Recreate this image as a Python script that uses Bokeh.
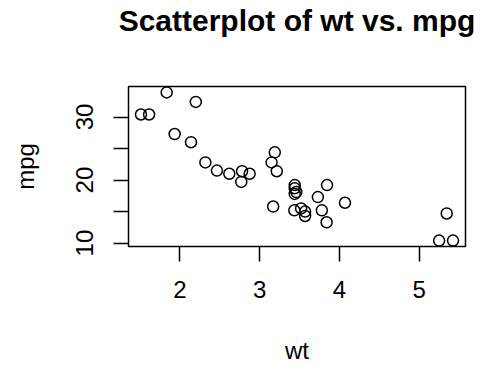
from bokeh.plotting import figure
from bokeh.models import Range1d, FixedTicker, ColumnDataSource, LinearAxis
from bokeh.embed import file_html
from bokeh.resources import INLINE

# mtcars: weight (1000 lbs) and miles per gallon
wt = [2.620, 2.875, 2.320, 3.215, 3.440, 3.460, 3.570, 3.190, 3.150, 3.440,
      3.440, 4.070, 3.730, 3.780, 5.250, 5.424, 5.345, 2.200, 1.615, 1.835,
      2.465, 3.520, 3.435, 3.840, 3.845, 1.935, 2.140, 1.513, 3.170, 2.770,
      3.570, 2.780]
mpg = [21.0, 21.0, 22.8, 21.4, 18.7, 18.1, 14.3, 24.4, 22.8, 19.2,
       17.8, 16.4, 17.3, 15.2, 10.4, 10.4, 14.7, 32.4, 30.4, 33.9,
       21.5, 15.5, 15.2, 13.3, 19.2, 27.3, 26.0, 30.4, 15.8, 19.7,
       15.0, 21.4]
x_ticks = [2, 3, 4, 5]
y_ticks = [10, 15, 20, 25, 30]
y_tick_labels = {10: "10", 15: "", 20: "20", 25: "", 30: "30"}

FONT = "Liberation Sans"

# R-style 4% range extension
xmin, xmax = min(wt), max(wt)
ymin, ymax = min(mpg), max(mpg)
dx = (xmax - xmin) * 0.04
dy = (ymax - ymin) * 0.04
xr = Range1d(xmin - dx, xmax + dx)
yr = Range1d(ymin - dy, ymax + dy)

p = figure(width=480, height=366, output_backend="svg", toolbar_location=None,
           x_range=xr, y_range=yr,
           min_border_left=128, min_border_right=15, min_border_top=86, min_border_bottom=119,
           title="Scatterplot of wt vs. mpg")

p.title.text_font = FONT
p.title.text_font_size = "30px"
p.title.text_font_style = "bold"
p.title.text_color = "black"
p.title.align = "center"
p.title.vertical_align = "bottom"
p.title.standoff = 0

p.background_fill_color = "white"
p.border_fill_color = "white"
p.outline_line_color = "black"
p.outline_line_width = 1.5
p.xgrid.visible = False
p.ygrid.visible = False

src = ColumnDataSource(dict(wt=wt, mpg=mpg))
p.scatter("wt", "mpg", source=src, marker="circle", size=11, fill_color=None,
          line_color="black", line_width=1.5)

xax = p.below[0]
yax = p.left[0]
for ax in (xax, yax):
    ax.axis_line_color = None
    ax.major_tick_in = 0
    ax.major_tick_out = 15
    ax.major_tick_line_width = 1.5
    ax.major_tick_line_color = "black"
    ax.minor_tick_line_color = None
    ax.major_label_text_font = FONT
    ax.major_label_text_font_size = "24px"
    ax.major_label_text_color = "black"
    ax.axis_label_text_font = FONT
    ax.axis_label_text_font_size = "24px"
    ax.axis_label_text_font_style = "normal"
    ax.axis_label_text_color = "black"

xax.ticker = FixedTicker(ticks=x_ticks)
xax.axis_label = "wt"
xax.major_label_standoff = 19
xax.axis_label_standoff = 36

yax.ticker = FixedTicker(ticks=y_ticks)
yax.major_label_overrides = {k: v for k, v in y_tick_labels.items()}
yax.major_label_orientation = "vertical"
yax.axis_label = "mpg"
yax.major_label_standoff = 20
yax.axis_label_standoff = 35

# invisible spacer between the plot box and the title (R's outer title margin)
spacer = LinearAxis(ticker=FixedTicker(ticks=[]), axis_line_color=None,
                    major_tick_in=0, major_tick_out=0, major_tick_line_color=None,
                    minor_tick_line_color=None, major_label_standoff=0,
                    major_label_text_font_size="0px",
                    axis_label=" ", axis_label_text_font_size="10px",
                    axis_label_standoff=36, axis_label_text_color=None)
p.add_layout(spacer, "above")

open("out.html", "w").write(file_html(p, INLINE))
